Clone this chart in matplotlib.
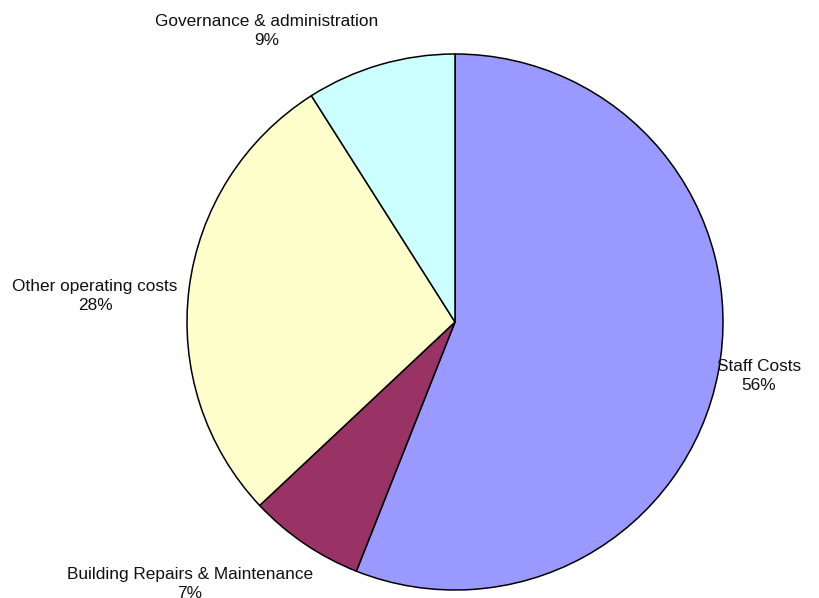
import matplotlib
matplotlib.use("Agg")
import matplotlib.pyplot as plt

plt.rcParams['font.family'] = ['Liberation Sans', 'DejaVu Sans']

categories = ["Staff Costs", "Building Repairs & Maintenance",
              "Other operating costs", "Governance & administration"]
shares = [56, 7, 28, 9]
colors = ["#9999FF", "#993366", "#FFFFCC", "#CCFFFF"]

# label anchor points (pixel space, origin bottom-left)
label_pos = [(759, 222), (190, 14), (95, 302), (267, 567)]

W, H = 819, 598
fig = plt.figure(figsize=(W / 100, H / 100), dpi=100)
ax = fig.add_axes([0, 0, 1, 1])

ax.pie(shares, colors=colors, startangle=90, counterclock=False,
       center=(455, 276), radius=268,
       wedgeprops=dict(edgecolor="black", linewidth=1.1))
ax.set_xlim(0, W)
ax.set_ylim(0, H)
ax.set_aspect('equal', adjustable='box')
ax.axis('off')

for name, val, (x, y) in zip(categories, shares, label_pos):
    ax.text(x, y, f"{name}\n{val}%", ha="center", va="center",
            fontsize=12.4, linespacing=1.38, color="#111111")

fig.savefig("out.png", dpi=100)
